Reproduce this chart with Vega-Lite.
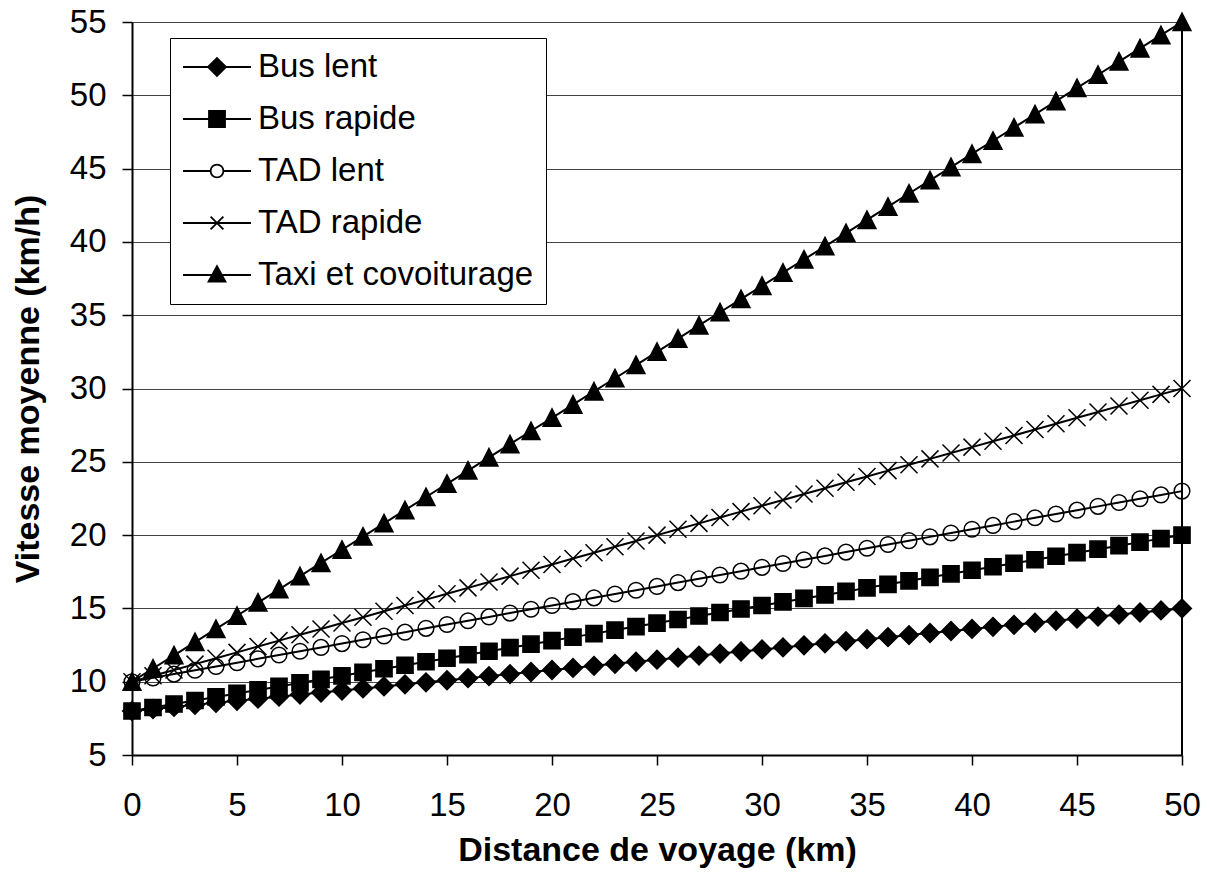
{
  "$schema": "https://vega.github.io/schema/vega-lite/v6.json",
  "width": 1050,
  "height": 733,
  "autosize": {"type": "none"},
  "padding": {"left": 132, "top": 22, "right": 30, "bottom": 124},
  "background": "white",
  "config": {
    "font": "Liberation Sans",
    "view": {"stroke": null},
    "axis": {"labelFont": "Liberation Sans", "titleFont": "Liberation Sans", "labelColor": "black", "titleColor": "black", "domainColor": "black", "tickColor": "black"}
  },
  "data": {"values": [
    {"s":"Bus lent","d":0,"v":8},{"s":"Bus lent","d":1,"v":8.14},{"s":"Bus lent","d":2,"v":8.28},{"s":"Bus lent","d":3,"v":8.42},{"s":"Bus lent","d":4,"v":8.56},{"s":"Bus lent","d":5,"v":8.7},{"s":"Bus lent","d":6,"v":8.84},{"s":"Bus lent","d":7,"v":8.98},{"s":"Bus lent","d":8,"v":9.12},{"s":"Bus lent","d":9,"v":9.26},{"s":"Bus lent","d":10,"v":9.4},{"s":"Bus lent","d":11,"v":9.54},{"s":"Bus lent","d":12,"v":9.68},{"s":"Bus lent","d":13,"v":9.82},{"s":"Bus lent","d":14,"v":9.96},{"s":"Bus lent","d":15,"v":10.1},{"s":"Bus lent","d":16,"v":10.24},{"s":"Bus lent","d":17,"v":10.38},{"s":"Bus lent","d":18,"v":10.52},{"s":"Bus lent","d":19,"v":10.66},{"s":"Bus lent","d":20,"v":10.8},{"s":"Bus lent","d":21,"v":10.94},{"s":"Bus lent","d":22,"v":11.08},{"s":"Bus lent","d":23,"v":11.22},{"s":"Bus lent","d":24,"v":11.36},{"s":"Bus lent","d":25,"v":11.5},{"s":"Bus lent","d":26,"v":11.64},{"s":"Bus lent","d":27,"v":11.78},{"s":"Bus lent","d":28,"v":11.92},{"s":"Bus lent","d":29,"v":12.06},{"s":"Bus lent","d":30,"v":12.2},{"s":"Bus lent","d":31,"v":12.34},{"s":"Bus lent","d":32,"v":12.48},{"s":"Bus lent","d":33,"v":12.62},{"s":"Bus lent","d":34,"v":12.76},{"s":"Bus lent","d":35,"v":12.9},{"s":"Bus lent","d":36,"v":13.04},{"s":"Bus lent","d":37,"v":13.18},{"s":"Bus lent","d":38,"v":13.32},{"s":"Bus lent","d":39,"v":13.46},{"s":"Bus lent","d":40,"v":13.6},{"s":"Bus lent","d":41,"v":13.74},{"s":"Bus lent","d":42,"v":13.88},{"s":"Bus lent","d":43,"v":14.02},{"s":"Bus lent","d":44,"v":14.16},{"s":"Bus lent","d":45,"v":14.3},{"s":"Bus lent","d":46,"v":14.44},{"s":"Bus lent","d":47,"v":14.58},{"s":"Bus lent","d":48,"v":14.72},{"s":"Bus lent","d":49,"v":14.86},{"s":"Bus lent","d":50,"v":15},
    {"s":"Bus rapide","d":0,"v":8},{"s":"Bus rapide","d":1,"v":8.24},{"s":"Bus rapide","d":2,"v":8.48},{"s":"Bus rapide","d":3,"v":8.72},{"s":"Bus rapide","d":4,"v":8.96},{"s":"Bus rapide","d":5,"v":9.2},{"s":"Bus rapide","d":6,"v":9.44},{"s":"Bus rapide","d":7,"v":9.68},{"s":"Bus rapide","d":8,"v":9.92},{"s":"Bus rapide","d":9,"v":10.16},{"s":"Bus rapide","d":10,"v":10.4},{"s":"Bus rapide","d":11,"v":10.64},{"s":"Bus rapide","d":12,"v":10.88},{"s":"Bus rapide","d":13,"v":11.12},{"s":"Bus rapide","d":14,"v":11.36},{"s":"Bus rapide","d":15,"v":11.6},{"s":"Bus rapide","d":16,"v":11.84},{"s":"Bus rapide","d":17,"v":12.08},{"s":"Bus rapide","d":18,"v":12.32},{"s":"Bus rapide","d":19,"v":12.56},{"s":"Bus rapide","d":20,"v":12.8},{"s":"Bus rapide","d":21,"v":13.04},{"s":"Bus rapide","d":22,"v":13.28},{"s":"Bus rapide","d":23,"v":13.52},{"s":"Bus rapide","d":24,"v":13.76},{"s":"Bus rapide","d":25,"v":14},{"s":"Bus rapide","d":26,"v":14.24},{"s":"Bus rapide","d":27,"v":14.48},{"s":"Bus rapide","d":28,"v":14.72},{"s":"Bus rapide","d":29,"v":14.96},{"s":"Bus rapide","d":30,"v":15.2},{"s":"Bus rapide","d":31,"v":15.44},{"s":"Bus rapide","d":32,"v":15.68},{"s":"Bus rapide","d":33,"v":15.92},{"s":"Bus rapide","d":34,"v":16.16},{"s":"Bus rapide","d":35,"v":16.4},{"s":"Bus rapide","d":36,"v":16.64},{"s":"Bus rapide","d":37,"v":16.88},{"s":"Bus rapide","d":38,"v":17.12},{"s":"Bus rapide","d":39,"v":17.36},{"s":"Bus rapide","d":40,"v":17.6},{"s":"Bus rapide","d":41,"v":17.84},{"s":"Bus rapide","d":42,"v":18.08},{"s":"Bus rapide","d":43,"v":18.32},{"s":"Bus rapide","d":44,"v":18.56},{"s":"Bus rapide","d":45,"v":18.8},{"s":"Bus rapide","d":46,"v":19.04},{"s":"Bus rapide","d":47,"v":19.28},{"s":"Bus rapide","d":48,"v":19.52},{"s":"Bus rapide","d":49,"v":19.76},{"s":"Bus rapide","d":50,"v":20},
    {"s":"TAD lent","d":0,"v":10},{"s":"TAD lent","d":1,"v":10.26},{"s":"TAD lent","d":2,"v":10.52},{"s":"TAD lent","d":3,"v":10.78},{"s":"TAD lent","d":4,"v":11.04},{"s":"TAD lent","d":5,"v":11.3},{"s":"TAD lent","d":6,"v":11.56},{"s":"TAD lent","d":7,"v":11.82},{"s":"TAD lent","d":8,"v":12.08},{"s":"TAD lent","d":9,"v":12.34},{"s":"TAD lent","d":10,"v":12.6},{"s":"TAD lent","d":11,"v":12.86},{"s":"TAD lent","d":12,"v":13.12},{"s":"TAD lent","d":13,"v":13.38},{"s":"TAD lent","d":14,"v":13.64},{"s":"TAD lent","d":15,"v":13.9},{"s":"TAD lent","d":16,"v":14.16},{"s":"TAD lent","d":17,"v":14.42},{"s":"TAD lent","d":18,"v":14.68},{"s":"TAD lent","d":19,"v":14.94},{"s":"TAD lent","d":20,"v":15.2},{"s":"TAD lent","d":21,"v":15.46},{"s":"TAD lent","d":22,"v":15.72},{"s":"TAD lent","d":23,"v":15.98},{"s":"TAD lent","d":24,"v":16.24},{"s":"TAD lent","d":25,"v":16.5},{"s":"TAD lent","d":26,"v":16.76},{"s":"TAD lent","d":27,"v":17.02},{"s":"TAD lent","d":28,"v":17.28},{"s":"TAD lent","d":29,"v":17.54},{"s":"TAD lent","d":30,"v":17.8},{"s":"TAD lent","d":31,"v":18.06},{"s":"TAD lent","d":32,"v":18.32},{"s":"TAD lent","d":33,"v":18.58},{"s":"TAD lent","d":34,"v":18.84},{"s":"TAD lent","d":35,"v":19.1},{"s":"TAD lent","d":36,"v":19.36},{"s":"TAD lent","d":37,"v":19.62},{"s":"TAD lent","d":38,"v":19.88},{"s":"TAD lent","d":39,"v":20.14},{"s":"TAD lent","d":40,"v":20.4},{"s":"TAD lent","d":41,"v":20.66},{"s":"TAD lent","d":42,"v":20.92},{"s":"TAD lent","d":43,"v":21.18},{"s":"TAD lent","d":44,"v":21.44},{"s":"TAD lent","d":45,"v":21.7},{"s":"TAD lent","d":46,"v":21.96},{"s":"TAD lent","d":47,"v":22.22},{"s":"TAD lent","d":48,"v":22.48},{"s":"TAD lent","d":49,"v":22.74},{"s":"TAD lent","d":50,"v":23},
    {"s":"TAD rapide","d":0,"v":10},{"s":"TAD rapide","d":1,"v":10.4},{"s":"TAD rapide","d":2,"v":10.8},{"s":"TAD rapide","d":3,"v":11.2},{"s":"TAD rapide","d":4,"v":11.6},{"s":"TAD rapide","d":5,"v":12},{"s":"TAD rapide","d":6,"v":12.4},{"s":"TAD rapide","d":7,"v":12.8},{"s":"TAD rapide","d":8,"v":13.2},{"s":"TAD rapide","d":9,"v":13.6},{"s":"TAD rapide","d":10,"v":14},{"s":"TAD rapide","d":11,"v":14.4},{"s":"TAD rapide","d":12,"v":14.8},{"s":"TAD rapide","d":13,"v":15.2},{"s":"TAD rapide","d":14,"v":15.6},{"s":"TAD rapide","d":15,"v":16},{"s":"TAD rapide","d":16,"v":16.4},{"s":"TAD rapide","d":17,"v":16.8},{"s":"TAD rapide","d":18,"v":17.2},{"s":"TAD rapide","d":19,"v":17.6},{"s":"TAD rapide","d":20,"v":18},{"s":"TAD rapide","d":21,"v":18.4},{"s":"TAD rapide","d":22,"v":18.8},{"s":"TAD rapide","d":23,"v":19.2},{"s":"TAD rapide","d":24,"v":19.6},{"s":"TAD rapide","d":25,"v":20},{"s":"TAD rapide","d":26,"v":20.4},{"s":"TAD rapide","d":27,"v":20.8},{"s":"TAD rapide","d":28,"v":21.2},{"s":"TAD rapide","d":29,"v":21.6},{"s":"TAD rapide","d":30,"v":22},{"s":"TAD rapide","d":31,"v":22.4},{"s":"TAD rapide","d":32,"v":22.8},{"s":"TAD rapide","d":33,"v":23.2},{"s":"TAD rapide","d":34,"v":23.6},{"s":"TAD rapide","d":35,"v":24},{"s":"TAD rapide","d":36,"v":24.4},{"s":"TAD rapide","d":37,"v":24.8},{"s":"TAD rapide","d":38,"v":25.2},{"s":"TAD rapide","d":39,"v":25.6},{"s":"TAD rapide","d":40,"v":26},{"s":"TAD rapide","d":41,"v":26.4},{"s":"TAD rapide","d":42,"v":26.8},{"s":"TAD rapide","d":43,"v":27.2},{"s":"TAD rapide","d":44,"v":27.6},{"s":"TAD rapide","d":45,"v":28},{"s":"TAD rapide","d":46,"v":28.4},{"s":"TAD rapide","d":47,"v":28.8},{"s":"TAD rapide","d":48,"v":29.2},{"s":"TAD rapide","d":49,"v":29.6},{"s":"TAD rapide","d":50,"v":30},
    {"s":"Taxi et covoiturage","d":0,"v":10},{"s":"Taxi et covoiturage","d":1,"v":10.9},{"s":"Taxi et covoiturage","d":2,"v":11.8},{"s":"Taxi et covoiturage","d":3,"v":12.7},{"s":"Taxi et covoiturage","d":4,"v":13.6},{"s":"Taxi et covoiturage","d":5,"v":14.5},{"s":"Taxi et covoiturage","d":6,"v":15.4},{"s":"Taxi et covoiturage","d":7,"v":16.3},{"s":"Taxi et covoiturage","d":8,"v":17.2},{"s":"Taxi et covoiturage","d":9,"v":18.1},{"s":"Taxi et covoiturage","d":10,"v":19},{"s":"Taxi et covoiturage","d":11,"v":19.9},{"s":"Taxi et covoiturage","d":12,"v":20.8},{"s":"Taxi et covoiturage","d":13,"v":21.7},{"s":"Taxi et covoiturage","d":14,"v":22.6},{"s":"Taxi et covoiturage","d":15,"v":23.5},{"s":"Taxi et covoiturage","d":16,"v":24.4},{"s":"Taxi et covoiturage","d":17,"v":25.3},{"s":"Taxi et covoiturage","d":18,"v":26.2},{"s":"Taxi et covoiturage","d":19,"v":27.1},{"s":"Taxi et covoiturage","d":20,"v":28},{"s":"Taxi et covoiturage","d":21,"v":28.9},{"s":"Taxi et covoiturage","d":22,"v":29.8},{"s":"Taxi et covoiturage","d":23,"v":30.7},{"s":"Taxi et covoiturage","d":24,"v":31.6},{"s":"Taxi et covoiturage","d":25,"v":32.5},{"s":"Taxi et covoiturage","d":26,"v":33.4},{"s":"Taxi et covoiturage","d":27,"v":34.3},{"s":"Taxi et covoiturage","d":28,"v":35.2},{"s":"Taxi et covoiturage","d":29,"v":36.1},{"s":"Taxi et covoiturage","d":30,"v":37},{"s":"Taxi et covoiturage","d":31,"v":37.9},{"s":"Taxi et covoiturage","d":32,"v":38.8},{"s":"Taxi et covoiturage","d":33,"v":39.7},{"s":"Taxi et covoiturage","d":34,"v":40.6},{"s":"Taxi et covoiturage","d":35,"v":41.5},{"s":"Taxi et covoiturage","d":36,"v":42.4},{"s":"Taxi et covoiturage","d":37,"v":43.3},{"s":"Taxi et covoiturage","d":38,"v":44.2},{"s":"Taxi et covoiturage","d":39,"v":45.1},{"s":"Taxi et covoiturage","d":40,"v":46},{"s":"Taxi et covoiturage","d":41,"v":46.9},{"s":"Taxi et covoiturage","d":42,"v":47.8},{"s":"Taxi et covoiturage","d":43,"v":48.7},{"s":"Taxi et covoiturage","d":44,"v":49.6},{"s":"Taxi et covoiturage","d":45,"v":50.5},{"s":"Taxi et covoiturage","d":46,"v":51.4},{"s":"Taxi et covoiturage","d":47,"v":52.3},{"s":"Taxi et covoiturage","d":48,"v":53.2},{"s":"Taxi et covoiturage","d":49,"v":54.1},{"s":"Taxi et covoiturage","d":50,"v":55}
  ]},
  "encoding": {
    "x": {"field": "d", "type": "quantitative",
      "scale": {"domain": [0, 50], "nice": false, "zero": false},
      "axis": {"title": "Distance de voyage (km)", "values": [0,5,10,15,20,25,30,35,40,45,50], "grid": false,
        "labelFontSize": 33, "titleFontSize": 34, "titleFontWeight": "bold", "tickSize": 10, "tickWidth": 1.5, "domainWidth": 2,
        "labelPadding": 24, "titlePadding": 11, "labelFlush": false, "labelOverlap": false}},
    "y": {"field": "v", "type": "quantitative",
      "scale": {"domain": [5, 55], "nice": false, "zero": false},
      "axis": {"title": "Vitesse moyenne (km/h)", "values": [5,10,15,20,25,30,35,40,45,50,55], "grid": true, "gridColor": "#444", "gridWidth": 1,
        "labelFontSize": 33, "titleFontSize": 34, "titleFontWeight": "bold", "tickSize": 10, "tickWidth": 1.5, "domainWidth": 2,
        "labelPadding": 16, "titlePadding": 24, "labelFlush": false, "labelOverlap": false}}
  },
  "layer": [
    {"mark": {"type": "rule", "color": "black", "strokeWidth": 1.5}, "encoding": {"x": {"datum": 50}, "y": null}},
    {"mark": {"type": "line", "color": "black", "strokeWidth": 2}, "encoding": {"detail": {"field": "s"}}},
    {"mark": {"type": "point", "filled": true, "stroke": "black", "strokeWidth": 1.5, "size": 289, "opacity": 1, "fillOpacity": 1},
      "encoding": {
        "shape": {"field": "s", "type": "nominal", "legend": null,
          "scale": {"domain": ["Bus lent","Bus rapide","TAD lent","TAD rapide","Taxi et covoiturage"],
                    "range": ["M-1.1,0L0,-1.1L1.1,0L0,1.1Z","M-0.95,-0.95H0.95V0.95H-0.95Z","M-0.92,0A0.92,0.92,0,1,1,0.92,0A0.92,0.92,0,1,1,-0.92,0Z","M-1,-1L1,1M-1,1L1,-1","M0,-1.05L1.05,1L-1.05,1Z"]}},
        "fill": {"field": "s", "type": "nominal", "legend": null,
          "scale": {"domain": ["Bus lent","Bus rapide","TAD lent","TAD rapide","Taxi et covoiturage"],
                    "range": ["black","black","transparent","transparent","black"]}}
      }},
    {"transform": [{"filter": "datum.d < 0"}],
      "mark": {"type": "point", "filled": true, "size": 1024, "strokeWidth": 1.8},
      "encoding": {
        "shape": {"field": "s", "type": "nominal",
          "scale": {"domain": ["Bus lent","Bus rapide","TAD lent","TAD rapide","Taxi et covoiturage"],
                    "range": ["M-1,0H3.25M0.565,0L1.125,-0.56L1.685,0L1.125,0.56Z","M-1,0H3.25M0.625,-0.5H1.625V0.5H0.625Z","M-1,0H0.725M1.525,0H3.25M0.725,0A0.4,0.4,0,1,1,1.525,0A0.4,0.4,0,1,1,0.725,0Z","M-1,0H3.25M0.725,-0.4L1.525,0.4M0.725,0.4L1.525,-0.4","M-1,0H3.25M1.125,-0.55L1.655,0.42L0.595,0.42Z"]},
          "legend": {
            "orient": "none", "legendX": 38, "legendY": 16, "title": null,
            "strokeColor": "black", "fillColor": "white", "padding": 12,
            "labelFontSize": 33, "labelFont": "Liberation Sans", "labelColor": "black", "labelOffset": 42, "labelLimit": 500,
            "symbolSize": 1024, "symbolStrokeWidth": 1.8, "symbolOpacity": 1, "rowPadding": 18
          }},
        "fill": {"field": "s", "type": "nominal",
          "scale": {"domain": ["Bus lent","Bus rapide","TAD lent","TAD rapide","Taxi et covoiturage"],
                    "range": ["black","black","transparent","transparent","black"]}},
        "stroke": {"field": "s", "type": "nominal",
          "scale": {"domain": ["Bus lent","Bus rapide","TAD lent","TAD rapide","Taxi et covoiturage"],
                    "range": ["black","black","black","black","black"]}}
      }}
  ],
  "resolve": {"scale": {"shape": "independent", "fill": "independent", "stroke": "independent"}}
}
